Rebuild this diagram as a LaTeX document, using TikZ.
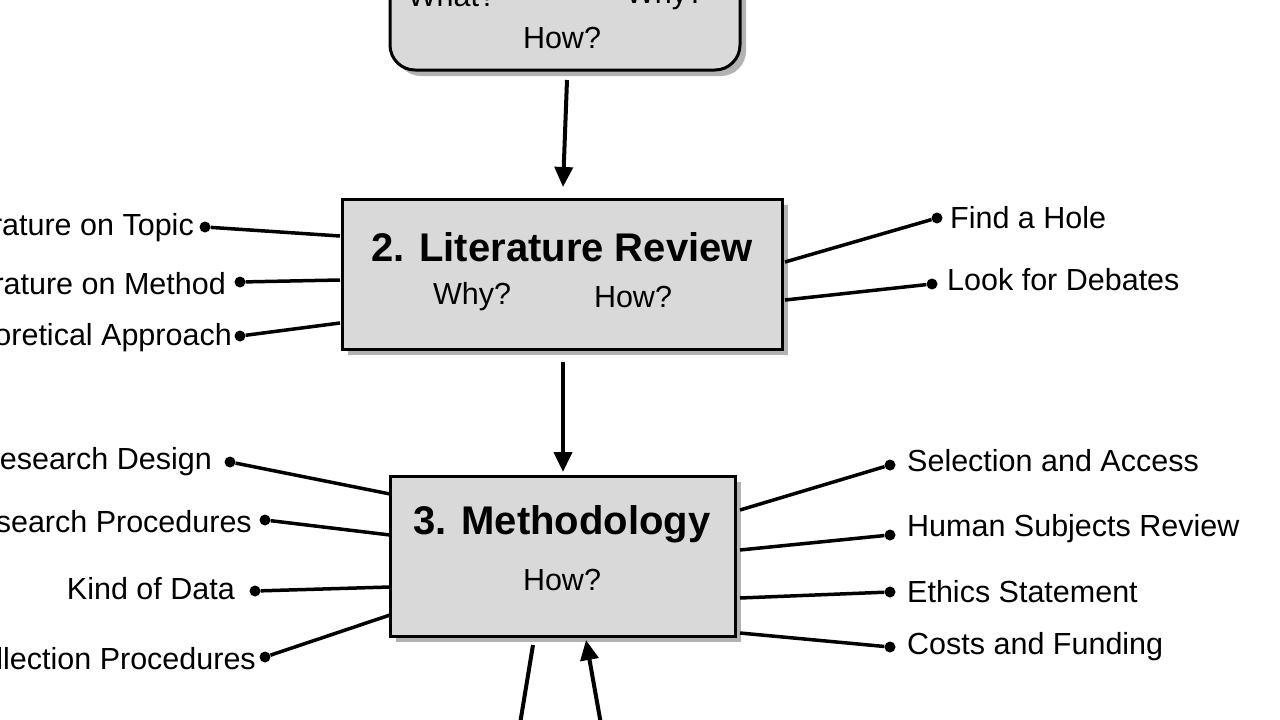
\documentclass[tikz,border=0pt]{standalone}
\usepackage{fontspec}
\setmainfont{Liberation Sans}
\usetikzlibrary{arrows.meta}
\begin{document}
\begin{tikzpicture}[x=1pt,y=-1pt,
  lbl/.style={font=\fontsize{30.5}{33}\selectfont, inner sep=2pt},
  ttl/.style={font=\bfseries\fontsize{40}{44}\selectfont},
  con/.style={line width=3.5pt},
  dot/.style={circle, fill=black, inner sep=0pt, minimum size=11pt},
  arr/.style={line width=4pt, -{Triangle[length=20pt,width=18pt]}},
  box/.style={draw, line width=3pt, fill=gray!30}]
\useasboundingbox (0,0) rectangle (1280,720);
\clip (0,0) rectangle (1280,720);
\fill[white] (0,0) rectangle (1280,720);
% top box
\fill[gray!60, rounded corners=25pt] (396,-60) rectangle (746,76);
\draw[box, rounded corners=25pt] (390,-60) rectangle (740,70);
\node[lbl] (twhat) at (452,-4) {What?};
\node[lbl] (twhy) at (665,-4) {Why?};
\node[lbl] (thow) at (562,38) {How?};
\coordinate (topb) at (567,80);
% lit review
\fill[gray!60] (348,205) rectangle (788,355);
\draw[box] (342,199) rectangle (782,349);
\node[ttl] (lr) at (562,247) {2. Literature Review};
\node[lbl] (lrwhy) at (472,297) {Why?};
\node[lbl] (lrhow) at (633,297) {How?};
\coordinate (lrt) at (563,187);
\draw[arr] (topb) -- (lrt);
% methodology
\fill[gray!60] (396,482) rectangle (741,642);
\draw[box] (390,476) rectangle (735,636);
\node[ttl] (me) at (562,524) {3. Methodology};
\node[lbl] (mehow) at (562,580) {How?};
\coordinate (lrb) at (563,362);
\coordinate (met) at (563,472);
\draw[arr] (lrb) -- (met);
% lit review left
\node[dot] (d1) at (205,227) {}; \node[lbl,anchor=east] at (196,228) {Literature on Topic};
\node[dot] (d2) at (240,282) {}; \node[lbl,anchor=east] at (228,284) {Literature on Method};
\node[dot] (d3) at (240,336) {}; \node[lbl,anchor=east] at (234,338) {Theoretical Approach};
\coordinate (a1) at (340,236); \coordinate (a2) at (340,280); \coordinate (a3) at (340,323);
\draw[con] (d1) -- (a1); \draw[con] (d2) -- (a2); \draw[con] (d3) -- (a3);
% lit review right
\node[dot] (d4) at (937,218) {}; \node[lbl,anchor=west] at (948,218) {Find a Hole};
\node[dot] (d5) at (932,284) {}; \node[lbl,anchor=west] at (945,280) {Look for Debates};
\coordinate (a4) at (785,262); \coordinate (a5) at (785,300);
\draw[con] (d4) -- (a4); \draw[con] (d5) -- (a5);
% methodology left
\node[dot] (m1) at (230,462) {}; \node[lbl,anchor=east] at (214,462) {Research Design};
\node[dot] (m2) at (265,520) {}; \node[lbl,anchor=east] at (254,522) {Research Procedures};
\node[dot] (m3) at (255,591) {}; \node[lbl,anchor=east] at (237,589) {Kind of Data};
\node[dot] (m4) at (265,657) {}; \node[lbl,anchor=east] at (258,659) {Data Collection Procedures};
\coordinate (b1) at (390,494); \coordinate (b2) at (390,535); \coordinate (b3) at (390,587); \coordinate (b4) at (390,615);
\draw[con] (m1) -- (b1); \draw[con] (m2) -- (b2); \draw[con] (m3) -- (b3); \draw[con] (m4) -- (b4);
% methodology right
\node[dot] (m5) at (890,465) {}; \node[lbl,anchor=west] at (905,461) {Selection and Access};
\node[dot] (m6) at (890,535) {}; \node[lbl,anchor=west] at (905,529) {Human Subjects Review};
\node[dot] (m7) at (890,592) {}; \node[lbl,anchor=west] at (905,592) {Ethics Statement};
\node[dot] (m8) at (890,647) {}; \node[lbl,anchor=west] at (905,647) {Costs and Funding};
\coordinate (b5) at (740,510); \coordinate (b6) at (740,550); \coordinate (b7) at (740,598); \coordinate (b8) at (740,633);
\draw[con] (m5) -- (b5); \draw[con] (m6) -- (b6); \draw[con] (m7) -- (b7); \draw[con] (m8) -- (b8);
% bottom
\coordinate (c1) at (533,645); \coordinate (c2) at (519,730);
\draw[con, line width=4pt] (c1) -- (c2);
\coordinate (c3) at (602,730); \coordinate (c4) at (586,640);
\draw[arr] (c3) -- (c4);
\end{tikzpicture}
\end{document}
